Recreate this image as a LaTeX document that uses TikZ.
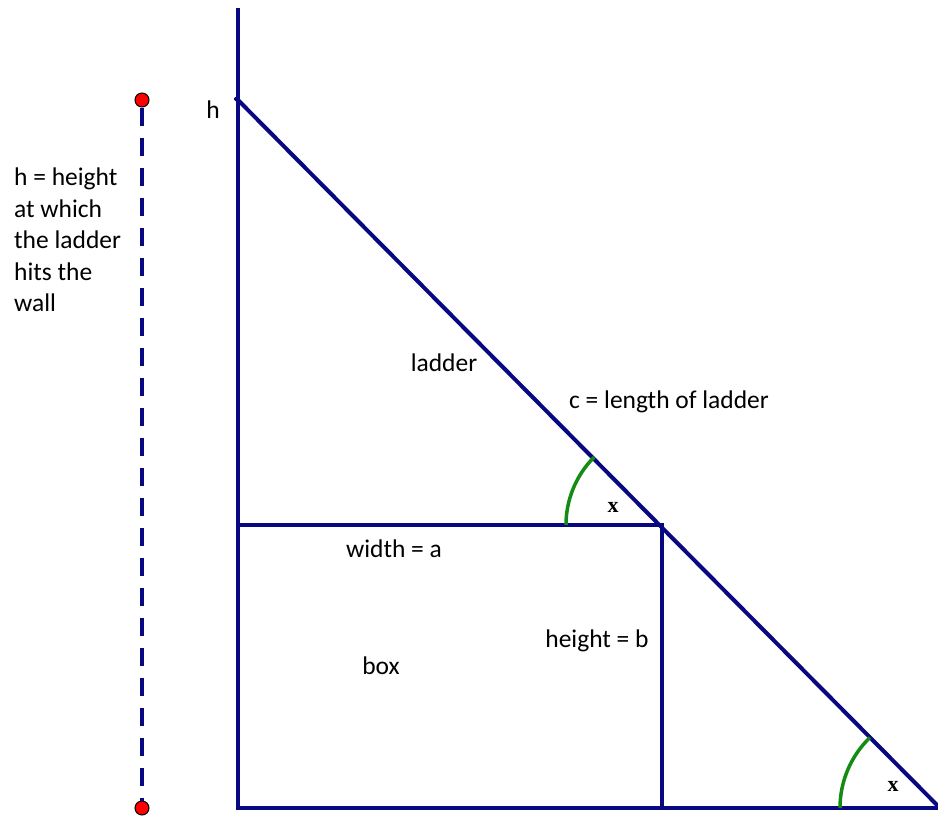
\documentclass[tikz,border=0pt]{standalone}
\usepackage{fontspec}
\setmainfont{Carlito}
\newfontfamily\xserif{Liberation Serif}
\begin{document}
\begin{tikzpicture}[x=1pt,y=-1pt,
  wallline/.style={draw=navyc, line width=4pt},
  arcline/.style={draw=greenc, line width=3.5pt},
  lbl/.style={font=\fontsize{25.5}{31.5}\selectfont, inner sep=0pt},
  xlbl/.style={font=\xserif\bfseries\fontsize{22}{22}\selectfont, inner sep=0pt},
  reddot/.style={circle, fill=red, draw=black, line width=1pt, minimum size=14pt, inner sep=0pt}]
\definecolor{navyc}{RGB}{8,8,130}
\definecolor{greenc}{RGB}{20,140,20}
\useasboundingbox (0,0) rectangle (938,815);
\fill[white] (0,0) rectangle (938,815);
% coordinates
\coordinate (walltop) at (238,8);
\coordinate (h) at (238,100);
\coordinate (corner) at (238,808);
\coordinate (groundend) at (940,808);
\coordinate (boxtl) at (238,525);
\coordinate (boxtr) at (662,525);
\coordinate (boxbr) at (662,808);
% wall and ground
\draw[wallline] (walltop) -- (corner) -- (groundend);
% box
\draw[wallline] (boxtl) -- (boxtr) -- (boxbr);
% ladder
\draw[wallline, line cap=round] (236,99) -- (h) -- (groundend);
% angle arcs
\draw[arcline] (566,525) arc[start angle=180, end angle=225, radius=96];
\draw[arcline] (840,808) arc[start angle=180, end angle=226, radius=98];
% dashed height line
\node[reddot] (dtop) at (142,100) {};
\node[reddot] (dbot) at (142,808) {};
\draw[draw=navyc, line width=4pt, dash pattern=on 18pt off 12pt] (dtop.south) -- (dbot.north);
% labels
\node[lbl] (hl) at (213,110) {h};
\node[lbl, anchor=north west, align=left] (hdesc) at (14,168) {h = height\\at which\\the ladder\\hits the\\wall};
\node[lbl] (ladderl) at (444,363) {ladder};
\node[lbl] (cl) at (669,402) {c = length of ladder};
\node[lbl] (wl) at (394,549) {width = a};
\node[lbl] (boxl) at (381,666) {box};
\node[lbl] (hbl) at (597,641) {height = b};
\node[xlbl] (x1) at (613,507) {x};
\node[xlbl] (x2) at (893,786) {x};
\end{tikzpicture}
\end{document}
